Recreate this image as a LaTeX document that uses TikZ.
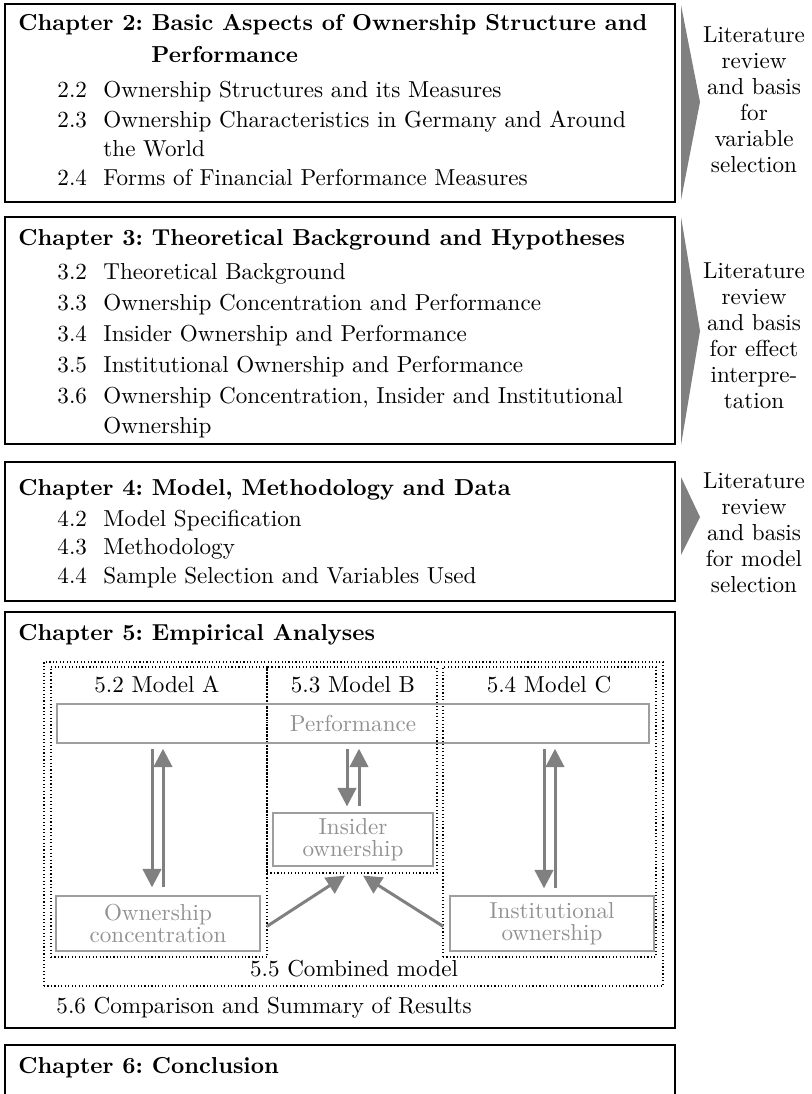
\documentclass[tikz,border=0pt]{standalone}
\usetikzlibrary{arrows.meta,calc,fit}
\definecolor{arrgray}{gray}{0.5}
\definecolor{boxgray}{gray}{0.62}
\definecolor{txtgray}{gray}{0.57}
\newlength\numw
\setlength\numw{19.9pt}
\begin{document}
\frenchspacing
\begin{tikzpicture}[x=0.433pt,y=-0.433pt,
  chapbox/.style={draw, line width=0.8pt, inner sep=0pt},
  modbox/.style={draw, densely dotted, line width=0.5pt, inner sep=0pt},
  varbox/.style={draw=boxgray, line width=0.6pt, inner sep=0pt, align=center,
    text=txtgray, font=\fontsize{10}{9.5}\selectfont},
  txt/.style={anchor=west, inner sep=0pt, text height=7pt, text depth=2pt,
    font=\fontsize{10}{12}\selectfont},
  ttl/.style={txt, font=\fontsize{10}{12}\selectfont\bfseries},
  lbl/.style={txt, anchor=center},
  side/.style={align=center, inner sep=0pt, font=\fontsize{10}{11.25}\selectfont},
  wedge/.style={fill=arrgray},
  arr/.style={draw=arrgray, line width=1.3pt, -{Triangle[length=8pt,width=8pt]}}]
\useasboundingbox (0,0) rectangle (812,1094);
\clip (0,0) rectangle (812,1094);

% chapter 2
\node[chapbox, fit={(5,4) (675,202)}] (ch2) {};
\node[ttl] (ch2t) at (18,25) {Chapter 2: Basic Aspects of Ownership Structure and};
\node[ttl] (ch2t2) at (151,57) {Performance};
\node[txt] (s22) at (57,92) {\makebox[\numw][l]{2.2}Ownership Structures and its Measures};
\node[txt] (s23) at (57,122) {\makebox[\numw][l]{2.3}Ownership Characteristics in Germany and Around};
\node[txt] (s23b) at (103,151) {the World};
\node[txt] (s24) at (57,180) {\makebox[\numw][l]{2.4}Forms of Financial Performance Measures};

% chapter 3
\node[chapbox, fit={(5,217) (675,444)}] (ch3) {};
\node[ttl] (ch3t) at (18,240) {Chapter 3: Theoretical Background and Hypotheses};
\node[txt] (s32) at (57,274) {\makebox[\numw][l]{3.2}Theoretical Background};
\node[txt] (s33) at (57,305) {\makebox[\numw][l]{3.3}Ownership Concentration and Performance};
\node[txt] (s34) at (57,336) {\makebox[\numw][l]{3.4}Insider Ownership and Performance};
\node[txt] (s35) at (57,367) {\makebox[\numw][l]{3.5}Institutional Ownership and Performance};
\node[txt] (s36) at (57,398) {\makebox[\numw][l]{3.6}Ownership Concentration, Insider and Institutional};
\node[txt] (s36b) at (103,428) {Ownership};

% chapter 4
\node[chapbox, fit={(5,462) (675,601)}] (ch4) {};
\node[ttl] (ch4t) at (18,490) {Chapter 4: Model, Methodology and Data};
\node[txt] (s42) at (57,521) {\makebox[\numw][l]{4.2}Model Specification};
\node[txt] (s43) at (57,549) {\makebox[\numw][l]{4.3}Methodology};
\node[txt] (s44) at (57,578) {\makebox[\numw][l]{4.4}Sample Selection and Variables Used};

% chapter 5
\node[chapbox, fit={(5,612) (675,1028)}] (ch5) {};
\node[ttl] (ch5t) at (18,635) {Chapter 5: Empirical Analyses};
\node[modbox, fit={(44,662) (663,986)}] (comb) {};
\node[modbox, fit={(51,667) (267,957)}] (modA) {};
\node[modbox, fit={(267,667) (437,873)}] (modB) {};
\node[modbox, fit={(443,667) (656,957)}] (modC) {};
\node[lbl] (labA) at (157,687) {5.2 Model A};
\node[lbl] (labB) at (353,687) {5.3 Model B};
\node[lbl] (labC) at (549,687) {5.4 Model C};
\node[varbox, minimum width=256.3pt, minimum height=16.9pt] (perf) at (353,723.5) {Performance};
\node[varbox, minimum width=69.3pt, minimum height=22.9pt] (ins) at (353,839.5) {Insider\\ownership};
\node[varbox, minimum width=88.3pt, minimum height=23.8pt] (conc) at (158,923.5) {Ownership\\concentration};
\node[varbox, minimum width=88.3pt, minimum height=23.8pt] (inst) at (552,923.5) {Institutional\\ownership};
\node[lbl] (labD) at (354,971) {5.5 Combined model};
\node[txt] (s56) at (56,1008) {5.6 Comparison and Summary of Results};

% model A: performance <-> ownership concentration
\draw[arr] ($(perf.south -| conc.north)+(-6,5)$) -- ($(conc.north)+(-6,-8)$);
\draw[arr] ($(conc.north)+(5,-8)$) -- ($(perf.south -| conc.north)+(5,5)$);
% model B: performance <-> insider ownership
\draw[arr] ($(perf.south -| ins.north)+(-6,5)$) -- ($(ins.north)+(-6,-6)$);
\draw[arr] ($(ins.north)+(6,-6)$) -- ($(perf.south -| ins.north)+(6,5)$);
% model C: performance <-> institutional ownership
\draw[arr] ($(perf.south -| inst.north)+(-8,5)$) -- ($(inst.north)+(-8,-7)$);
\draw[arr] ($(inst.north)+(3,-7)$) -- ($(perf.south -| inst.north)+(3,5)$);
% combined model: both blockholder types towards insider ownership
\draw[arr] ($(conc.east)+(6,3)$) -- ($(ins.south)+(-8,9)$);
\draw[arr] ($(inst.west)+(-6,3)$) -- ($(ins.south)+(10,9)$);

% chapter 6
\node[chapbox, fit={(5,1045) (675,1110)}] (ch6) {};
\node[ttl] (ch6t) at (18,1068) {Chapter 6: Conclusion};

% side notes with wedges
\fill[wedge] (681,5) -- (700,102) -- (681,200) -- cycle;
\fill[wedge] (681,217) -- (700,331) -- (681,445) -- cycle;
\fill[wedge] (681,477) -- (700,517) -- (681,555) -- cycle;
\node[side] (n1) at (754,100) {Literature\\review\\and basis\\for\\variable\\selection};
\node[side] (n2) at (754,336) {Literature\\review\\and basis\\for effect\\interpre-\\tation};
\node[side] (n3) at (754,533) {Literature\\review\\and basis\\for model\\selection};
\end{tikzpicture}
\end{document}
